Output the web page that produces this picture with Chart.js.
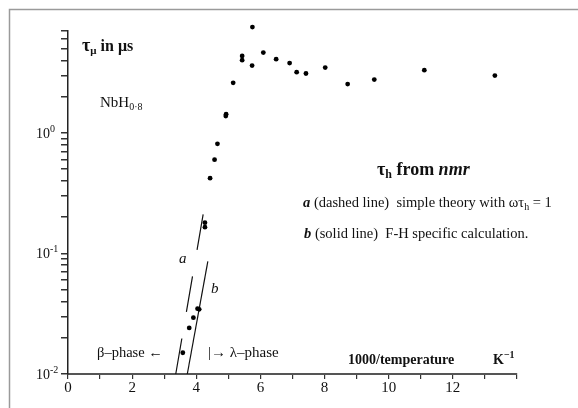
<!DOCTYPE html>
<html>
<head>
<meta charset="utf-8">
<script src="https://cdn.jsdelivr.net/npm/chart.js@4.4.1/dist/chart.umd.min.js"></script>
<style>
  html, body { margin: 0; padding: 0; background: #fff; }
  #wrap { width: 578px; height: 408px; }
</style>
</head>
<body>
<div id="wrap"><canvas id="chart" width="578" height="408"></canvas></div>
<script>
// measured muon lifetimes (1000/T in K^-1, tau in microseconds)
const invTemp = [3.58, 3.78, 3.91, 4.04, 4.09, 4.27, 4.27, 4.43, 4.57, 4.66, 4.92, 4.93, 5.15,
  5.43, 5.43, 5.75, 5.74, 6.09, 6.49, 6.91, 7.13, 7.42, 8.02, 8.72, 9.55, 11.11, 13.31];
const tauMu = [0.015, 0.0241, 0.0293, 0.0348, 0.0344, 0.180, 0.165, 0.421, 0.600, 0.811, 1.38, 1.43, 2.60,
  4.35, 4.01, 7.54, 3.62, 4.64, 4.09, 3.79, 3.19, 3.11, 3.48, 2.54, 2.77, 3.31, 2.99];

// theory curves from nmr tau_h
const lineAX = [3.36, 4.22];   // a: simple theory (dashed)
const lineAY = [0.01, 0.2157];
const lineBX = [3.72, 4.36];   // b: F-H calculation (solid)
const lineBY = [0.01, 0.0861];

// axis ticks
const xTicks = [0, 2, 4, 6, 8, 10, 12];
const yDecades = [0.01, 0.1, 1];
const yDecadeExp = ['-2', '-1', '0'];
const yMantissas = [1, 2, 3, 4, 5, 6, 7, 8, 9];

const toPoints = (xs, ys) => xs.map((x, i) => ({ x, y: ys[i] }));

const SERIF = '"Liberation Serif", "Times New Roman", serif';
const ink = '#111';

// draws a sequence of text runs, each with its own font and baseline shift
function drawRuns(ctx, x, y, runs) {
  let cx = x;
  runs.forEach(r => {
    ctx.font = r.f;
    ctx.fillText(r.t, cx, y + (r.dy || 0));
    cx += ctx.measureText(r.t).width;
  });
}

const annotations = {
  id: 'annotations',
  beforeDraw(chart) {
    const ctx = chart.ctx;
    ctx.save();
    ctx.strokeStyle = '#9a9a9a';
    ctx.lineWidth = 1.5;
    ctx.beginPath();
    ctx.moveTo(9.5, 408);
    ctx.lineTo(9.5, 9.5);
    ctx.lineTo(578, 9.5);
    ctx.stroke();
    ctx.restore();
  },
  afterDraw(chart) {
    const ctx = chart.ctx;
    const yScale = chart.scales.y;
    ctx.save();
    ctx.fillStyle = ink;
    ctx.textBaseline = 'alphabetic';
    ctx.textAlign = 'left';

    // y decade labels with superscript exponents
    yDecades.forEach((v, i) => {
      const py = yScale.getPixelForValue(v);
      drawRuns(ctx, 36, py + 5, [
        { t: '10', f: `14px ${SERIF}` },
        { t: yDecadeExp[i], f: `10px ${SERIF}`, dy: -6 }
      ]);
    });

    const b14 = `bold 14px ${SERIF}`;
    drawRuns(ctx, 82, 51, [
      { t: 'τ', f: `bold 18px ${SERIF}` },
      { t: 'μ', f: `bold 11px ${SERIF}`, dy: 3 },
      { t: ' in μs', f: `bold 16px ${SERIF}` }
    ]);
    drawRuns(ctx, 100, 107, [
      { t: 'NbH', f: `15px ${SERIF}` },
      { t: '0·8', f: `10px ${SERIF}`, dy: 3 }
    ]);
    drawRuns(ctx, 377, 175, [
      { t: 'τ', f: `bold 18px ${SERIF}` },
      { t: 'h', f: `bold 12px ${SERIF}`, dy: 3 },
      { t: ' from ', f: `bold 18px ${SERIF}` },
      { t: 'nmr', f: `bold italic 18px ${SERIF}` }
    ]);
    drawRuns(ctx, 303, 207, [
      { t: 'a', f: `bold italic 14.5px ${SERIF}` },
      { t: ' (dashed line)  simple theory with ωτ', f: `14.5px ${SERIF}` },
      { t: 'h', f: `10px ${SERIF}`, dy: 3 },
      { t: ' = 1', f: `14.5px ${SERIF}` }
    ]);
    drawRuns(ctx, 304, 238, [
      { t: 'b', f: `bold italic 14.5px ${SERIF}` },
      { t: ' (solid line)  F-H specific calculation.', f: `14.5px ${SERIF}` }
    ]);
    drawRuns(ctx, 179, 263, [{ t: 'a', f: `italic 15px ${SERIF}` }]);
    drawRuns(ctx, 211, 293, [{ t: 'b', f: `italic 15px ${SERIF}` }]);
    drawRuns(ctx, 97, 357, [{ t: 'β–phase ←', f: `14.5px ${SERIF}` }]);
    drawRuns(ctx, 208, 357, [{ t: '|→ λ–phase', f: `15px ${SERIF}` }]);
    drawRuns(ctx, 348, 364, [{ t: '1000/temperature', f: b14 }]);
    drawRuns(ctx, 493, 364, [
      { t: 'K', f: b14 },
      { t: '−1', f: `bold 10px ${SERIF}`, dy: -6 }
    ]);
    ctx.restore();
  }
};

const ctx = document.getElementById('chart').getContext('2d');
new Chart(ctx, {
  type: 'scatter',
  data: {
    datasets: [
      {
        label: 'tau_mu',
        data: toPoints(invTemp, tauMu),
        backgroundColor: '#000',
        borderColor: '#000',
        pointRadius: 2.4,
        pointBorderWidth: 0,
        clip: false
      },
      {
        label: 'a',
        data: toPoints(lineAX, lineAY),
        showLine: true,
        borderColor: '#111',
        borderWidth: 1.2,
        borderDash: [36, 27],
        pointRadius: 0,
        clip: false
      },
      {
        label: 'b',
        data: toPoints(lineBX, lineBY),
        showLine: true,
        borderColor: '#111',
        borderWidth: 1.2,
        pointRadius: 0,
        clip: false
      }
    ]
  },
  options: {
    responsive: false,
    animation: false,
    layout: { padding: { left: 0, right: 61, top: 31, bottom: 0 } },
    plugins: {
      legend: { display: false },
      tooltip: { enabled: false }
    },
    scales: {
      x: {
        type: 'linear',
        min: 0,
        max: 14,
        afterFit: scale => { scale.height = 34; },
        afterBuildTicks: scale => {
          scale.ticks = Array.from({ length: 15 }, (_, i) => ({ value: i }));
        },
        border: { display: true, color: '#555', width: 2 },
        grid: { drawOnChartArea: false, drawTicks: true, tickLength: 5, color: '#333', lineWidth: 1.2 },
        ticks: {
          autoSkip: false,
          maxRotation: 0,
          padding: 0,
          color: ink,
          font: { family: SERIF, size: 15 },
          callback: v => (xTicks.includes(v) ? String(v) : '')
        }
      },
      y: {
        type: 'logarithmic',
        min: 0.01,
        max: 7,
        afterFit: scale => { scale.width = 68; },
        afterBuildTicks: scale => {
          const ticks = [];
          yDecades.forEach(d => yMantissas.forEach(m => {
            const v = +(d * m).toPrecision(3);
            if (v <= 7) ticks.push({ value: v });
          }));
          scale.ticks = ticks;
        },
        border: { display: true, color: '#222', width: 1.5 },
        grid: { drawOnChartArea: false, drawTicks: true, tickLength: 7, color: '#333', lineWidth: 1.5 },
        ticks: { display: false }
      }
    }
  },
  plugins: [annotations]
});
</script>
</body>
</html>
